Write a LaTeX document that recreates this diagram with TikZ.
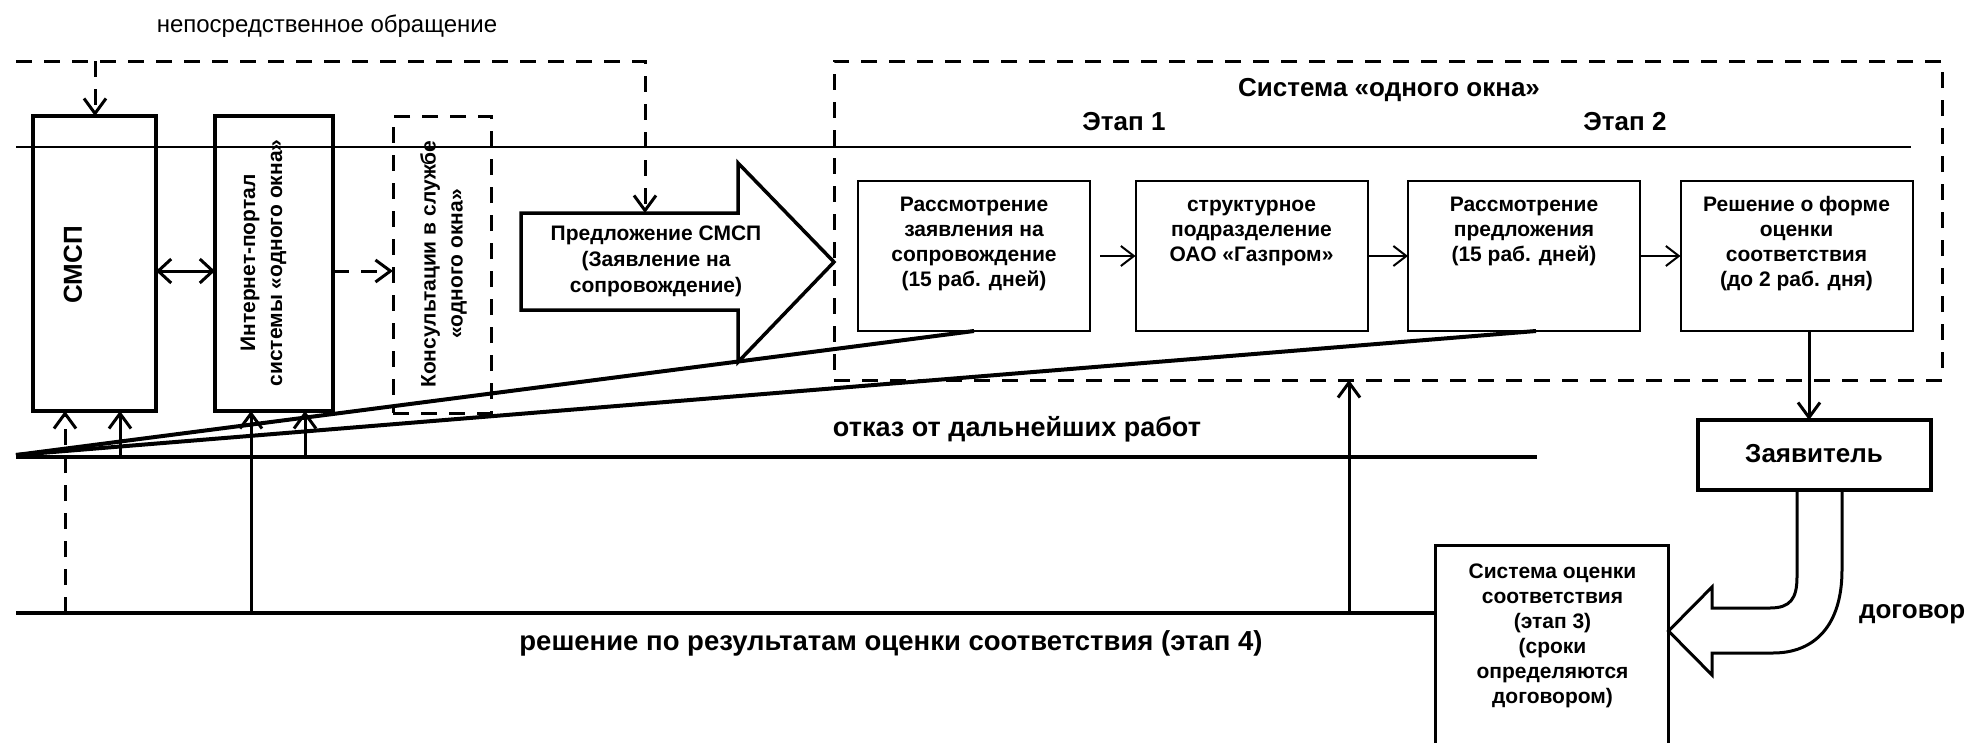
\documentclass[tikz,border=0pt]{standalone}
\usepackage{fontspec}
\setmainfont{Liberation Sans}
\usetikzlibrary{arrows.meta,calc}
\newcommand\myfs[2]{\fontsize{#1}{#2}\selectfont}
\begin{document}
\begin{tikzpicture}[x=1pt,y=-1pt,
  thickbox/.style={draw,line width=3.5pt,inner sep=0pt,outer sep=0pt},
  procbox/.style={draw,line width=2pt,minimum width=232pt,minimum height=150pt,inner sep=0pt,outer sep=0pt},
  dsh/.style={line width=3pt,dash pattern=on 16pt off 12pt},
  lbl/.style={inner sep=0pt,outer sep=0pt,align=center,font=\bfseries\myfs{21}{25}},
  big/.style={inner sep=0pt,outer sep=0pt,font=\bfseries\myfs{26}{30}},
  barb/.style={-{Straight Barb[length=15pt,width=22pt]}},
  sbarb/.style={-{Straight Barb[length=13pt,width=20pt]}},
  heavy/.style={line width=4pt},
  vline/.style={line width=3pt},
]
\useasboundingbox (0,0) rectangle (1971,742);
\fill[white] (0,0) rectangle (1971,742);
\clip (0,0) rectangle (1971,742);

% top label
\node[inner sep=0pt, anchor=base, font=\myfs{24}{29}] (direct) at (327,32) {непосредственное обращение};

% thin horizontal line
\coordinate (tl) at (16,147);
\coordinate (tr) at (1911,147);
\draw[line width=2pt] (tl) -- (tr);

% left boxes
\node[thickbox, minimum width=123pt, minimum height=295pt] (smsp) at (94.5,263.5) {};
\node[rotate=90, inner sep=0pt, font=\bfseries\myfs{26}{31}] (smspt) at (73,265) {СМСП};
\node[thickbox, minimum width=118pt, minimum height=295pt] (portal) at (274,263.5) {};
\node[rotate=90, lbl, font=\bfseries\myfs{21}{27}] (portalt) at (263.5,263) {Интернет-портал\\системы «одного окна»};
\node[draw, dsh, minimum width=98pt, minimum height=297pt, inner sep=0pt, outer sep=0pt] (cons) at (442,264.5) {};
\node[rotate=90, lbl, font=\bfseries\myfs{21}{27}] (const) at (443.5,264) {Консультации в службе\\«одного окна»};

% big arrow
\draw[line width=3.5pt, line join=miter] (521,213) coordinate (ba1) -- (738,213) -- (738,163) -- (834,262) coordinate (batip) -- (738,362) -- (738,310) -- (521,310) -- cycle;
\node[lbl, font=\bfseries\myfs{21}{26}, anchor=north] (prop) at (656,222) {\strut Предложение СМСП\\(Заявление на\\сопровождение)};

% dashed top path
\coordinate (d0) at (16,61);
\coordinate (dc) at (645,61);
\coordinate (db) at (95,61);
\draw[dsh, barb] (d0) -- (dc) -- (dc |- ba1);
\draw[dsh, barb] (db) -- (db |- smsp.north);

% system frame
\node[draw, dsh, minimum width=1108pt, minimum height=319pt, inner sep=0pt, outer sep=0pt] (sys) at (1388,220.5) {};
\node[big, anchor=base] (syst) at (1389,96) {Система «одного окна»};
\node[big, anchor=base] (st1) at (1124,130) {Этап 1};
\node[big, anchor=base] (st2) at (1625,130) {Этап 2};

% process boxes
\node[procbox] (b1) at (974,256) {};
\node[procbox] (b2) at (1251.5,256) {};
\node[procbox] (b3) at (1524,256) {};
\node[procbox] (b4) at (1796.5,256) {};
\node[lbl, anchor=north] (b1t) at (974,193.5) {\strut Рассмотрение\\заявления на\\сопровождение\\(15 раб. дней)};
\node[lbl, anchor=north] (b2t) at (1251.5,193.5) {\strut структурное\\подразделение\\ОАО «Газпром»};
\node[lbl, anchor=north] (b3t) at (1524,193.5) {\strut Рассмотрение\\предложения\\(15 раб. дней)};
\node[lbl, anchor=north] (b4t) at (1796.5,193.5) {\strut Решение о форме\\оценки\\соответствия\\(до 2 раб. дня)};
\draw[line width=2pt, sbarb, shorten <=10pt] (b1.east) -- (b2.west);
\draw[line width=2pt, sbarb] (b2.east) -- (b3.west);
\draw[line width=2pt, sbarb] (b3.east) -- (b4.west);

% applicant
\node[thickbox, minimum width=233pt, minimum height=70pt] (zaj) at (1814.5,455) {};
\node[big, anchor=base] (zajt) at (1814,462) {Заявитель};
\coordinate (dx) at (1809,0);
\draw[vline, barb] (b4.south -| dx) -- (zaj.north -| dx);

% conformity assessment system
\node[draw, line width=3pt, minimum width=233pt, minimum height=215pt, inner sep=0pt, outer sep=0pt, anchor=north] (soc) at (1552,545) {};
\node[lbl, anchor=north] (soct) at (1552.5,561) {\strut Система оценки\\соответствия\\(этап 3)\\(сроки\\определяются\\договором)};

% curved block arrow
\coordinate (ci) at (1797,0);
\coordinate (co) at (1842,0);
\coordinate (tipy) at (0,631);
\draw[line width=3pt, line join=miter] (ci |- zaj.south) -- (1797,577) .. controls (1797,599) and (1790,608) .. (1770,608) -- (1712,608) -- (1712,587) -- (soc.east |- tipy) -- (1712,675) -- (1712,653) -- (1773,653) .. controls (1815,653) and (1842,625) .. (1842,570) -- (co |- zaj.south);
\node[big, anchor=base west] (dog) at (1859,618) {договор};

% bottom lines
\coordinate (L) at (16,455);
\coordinate (H0) at (16,457);
\coordinate (H1) at (1537,457);
\coordinate (B0) at (16,613);
\coordinate (e2) at ($(b3.south)+(12,0)$);
\draw[heavy] (H0) -- (H1);
\draw[heavy] (L) -- (b1.south);
\draw[heavy] (L) -- (e2);
\draw[heavy] (B0) -- (B0 -| soc.west);
\node[big, font=\bfseries\myfs{27}{31}, anchor=base] (otk) at (1017,436) {отказ от дальнейших работ};
\node[big, font=\bfseries\myfs{27.5}{32}, anchor=base] (res) at (891,650) {решение по результатам оценки соответствия (этап 4)};

% upward arrows
\coordinate (u1) at (65,613);
\coordinate (u2) at (120,457);
\coordinate (u3) at (251,613);
\coordinate (u4) at (305,457);
\coordinate (u5) at (1349,613);
\draw[dsh, barb] (u1) -- (u1 |- smsp.south);
\draw[vline, barb] (u2) -- (u2 |- smsp.south);
\draw[vline, barb] (u3) -- (u3 |- portal.south);
\draw[vline, barb] (u4) -- (u4 |- portal.south);
\draw[vline, barb] (u5) -- (u5 |- sys.south);

% horizontal arrows between left boxes
\coordinate (ya) at (0,271);
\draw[vline, {Straight Barb[length=13pt,width=24pt]}-{Straight Barb[length=13pt,width=24pt]}] (smsp.east |- ya) -- (portal.west |- ya);
\draw[dsh, barb] (portal.east |- ya) -- (cons.west |- ya);
\end{tikzpicture}
\end{document}
